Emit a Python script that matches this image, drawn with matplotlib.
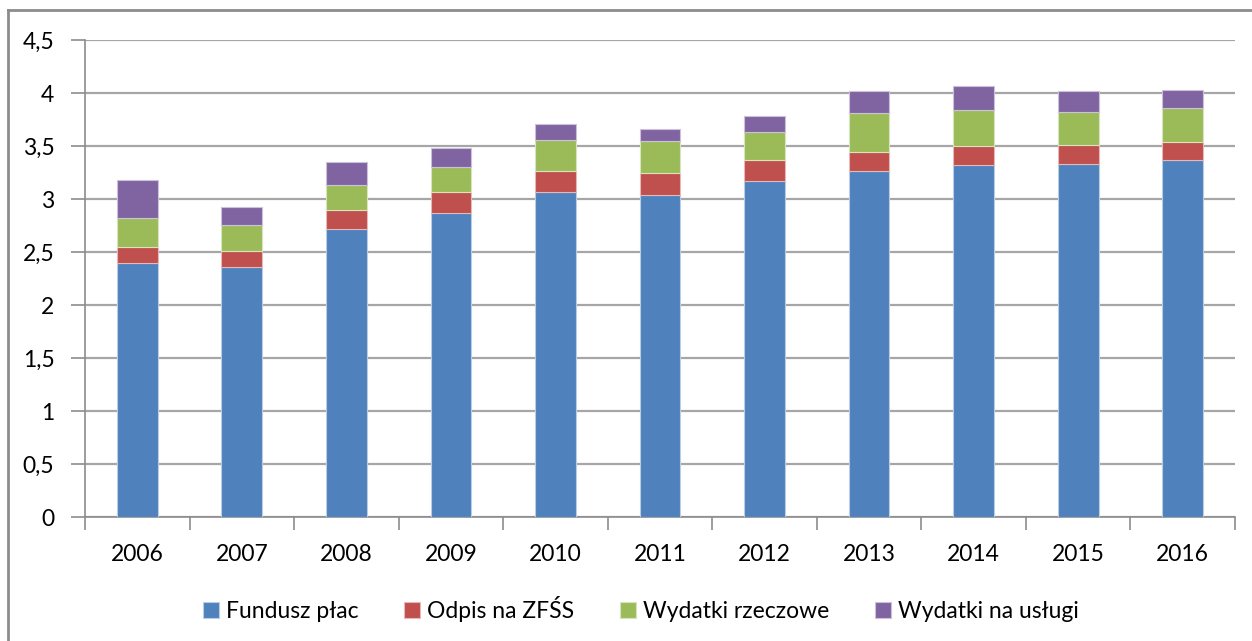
import matplotlib.pyplot as plt
import numpy as np
from matplotlib.lines import Line2D
from matplotlib.ticker import FuncFormatter, MultipleLocator

years = ["2006", "2007", "2008", "2009", "2010", "2011",
         "2012", "2013", "2014", "2015", "2016"]

# values (stacked components)
fundusz_plac = [2.40, 2.36, 2.72, 2.87, 3.07, 3.04, 3.17, 3.27, 3.32, 3.33, 3.37]
odpis_zfss = [0.15, 0.15, 0.18, 0.195, 0.20, 0.205, 0.20, 0.18, 0.18, 0.18, 0.17]
wydatki_rzeczowe = [0.27, 0.25, 0.24, 0.24, 0.29, 0.305, 0.265, 0.365, 0.34, 0.315, 0.325]
wydatki_uslugi = [0.36, 0.17, 0.21, 0.18, 0.155, 0.11, 0.15, 0.205, 0.23, 0.195, 0.17]

series = [
    ("Fundusz płac", fundusz_plac, "#4F81BD", "#B9CDE5"),
    ("Odpis na ZFŚS", odpis_zfss, "#C0504D", "#E6B9B8"),
    ("Wydatki rzeczowe", wydatki_rzeczowe, "#9BBB59", "#D7E4BD"),
    ("Wydatki na usługi", wydatki_uslugi, "#8064A2", "#CCC1DA"),
]

plt.rcParams["font.family"] = ["Lato", "DejaVu Sans"]
plt.rcParams["font.size"] = 16.5

fig = plt.figure(figsize=(12.52, 6.41), dpi=100)
ax = fig.add_axes([0.0679, 0.193, 0.9185, 0.744])

x = np.arange(len(years))
bottom = np.zeros(len(years))
for label, vals, color, edge in series:
    vals = np.array(vals)
    ax.bar(x, vals, width=0.39, bottom=bottom, color=color,
           edgecolor=edge, linewidth=0.8, label=label, zorder=3)
    bottom += vals

ax.set_xlim(-0.5, len(years) - 0.5)
ax.set_ylim(0, 4.5)
ax.yaxis.set_major_locator(MultipleLocator(0.5))
ax.yaxis.set_major_formatter(
    FuncFormatter(lambda v, _: f"{v:g}".replace(".", ",")))
ax.grid(axis="y", color="#A6A6A6", linewidth=1.6, zorder=0)

ax.set_xticks(x)
ax.set_xticklabels(years)
ax.set_xticks(np.arange(-0.5, len(years)), minor=True)
ax.tick_params(axis="x", which="major", length=0, pad=19)
ax.tick_params(axis="x", which="minor", length=9, width=1.2,
               color="#8C8C8C", direction="out")
ax.tick_params(axis="y", length=10, width=1.2, color="#8C8C8C",
               pad=12, direction="out")

for side in ("top", "right"):
    ax.spines[side].set_visible(False)
for side in ("left", "bottom"):
    ax.spines[side].set_color("#8C8C8C")
    ax.spines[side].set_linewidth(1.2)

handles, labels = ax.get_legend_handles_labels()
fig.legend(handles, labels, loc="center", bbox_to_anchor=(0.512, 0.05),
           ncol=4, frameon=False, handlelength=0.7, handleheight=0.7,
           handletextpad=0.3, columnspacing=2.0, fontsize=16.5)

# outer chart border (top and left visible)
fig.add_artist(Line2D([8 / 1252, 1.0], [1 - 10 / 641] * 2,
                      transform=fig.transFigure, color="#8C8C8C", lw=2))
fig.add_artist(Line2D([8 / 1252] * 2, [0.0, 1 - 10 / 641],
                      transform=fig.transFigure, color="#8C8C8C", lw=2))

fig.savefig("out.png", dpi=100)
